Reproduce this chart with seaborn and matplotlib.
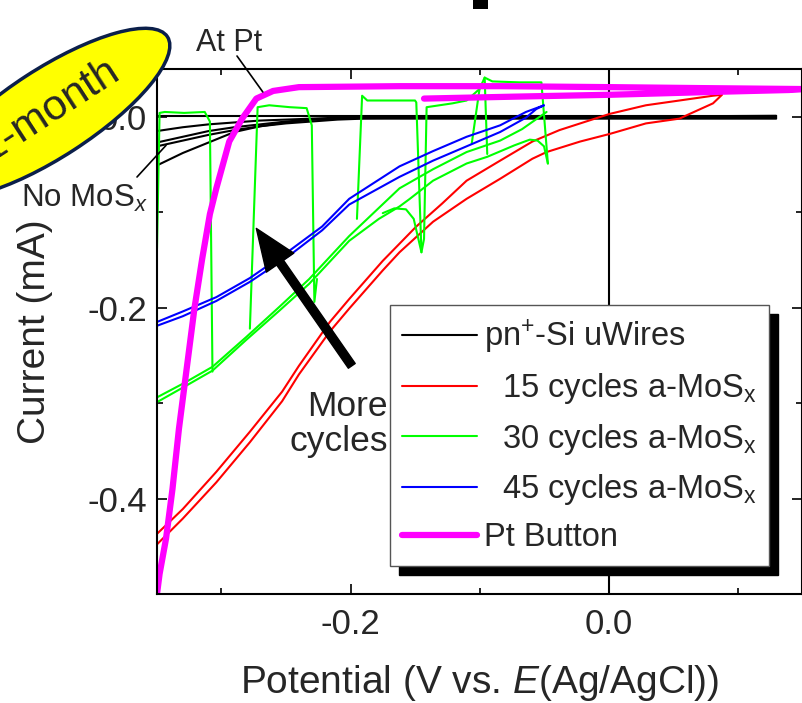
import numpy as np
import pandas as pd
import matplotlib
matplotlib.use("Agg")
import matplotlib.pyplot as plt
import seaborn as sns
from matplotlib.lines import Line2D
from matplotlib.patches import Ellipse, Rectangle
from matplotlib.ticker import MultipleLocator, FormatStrFormatter

# ---- data: potential (V) and current (mA) ----
# pn+-Si uWires, no MoSx (several scans, all close to zero)
black_v = [-0.35, -0.33, -0.31, -0.29, -0.27, -0.25, -0.23, -0.21, -0.19, -0.15, -0.10, 0.00, 0.13]
black_i_a = [-0.051, -0.038, -0.027, -0.016, -0.010, -0.006, -0.003, -0.002, -0.0015, -0.001, -0.001, -0.001, -0.001]
black_i_b = [-0.031, -0.025, -0.019, -0.014, -0.010, -0.007, -0.005, -0.003, -0.002, -0.002, -0.002, -0.002, -0.002]
black_i_c = [-0.027, -0.021, -0.015, -0.011, -0.008, -0.005, -0.003, -0.002, -0.001, -0.0005, 0.0, 0.0, 0.0]
black_i_d = [-0.015, -0.011, -0.008, -0.006, -0.004, -0.003, -0.002, -0.001, -0.001, 0.0, 0.0, 0.0, 0.001]
black_i_e = [0.001, 0.001, 0.001, 0.001, 0.001, 0.001, 0.001, 0.001, 0.001, 0.001, 0.001, 0.001, 0.001]

# 15 cycles a-MoSx (forward + reverse)
red_v = [-0.350, -0.330, -0.304, -0.278, -0.253, -0.240, -0.216, -0.201, -0.175, -0.149, -0.129,
         -0.110, -0.084, -0.059, -0.038, 0.001, 0.029, 0.055, 0.081, 0.088, 0.081, 0.063, 0.055,
         0.029, 0.001, -0.022, -0.048, -0.059, -0.084, -0.110, -0.136, -0.162, -0.175, -0.201,
         -0.216, -0.240, -0.253, -0.278, -0.304, -0.330, -0.350]
red_i = [-0.437, -0.411, -0.372, -0.330, -0.288, -0.261, -0.215, -0.191, -0.151, -0.115, -0.091,
         -0.067, -0.046, -0.026, -0.014, 0.003, 0.012, 0.017, 0.022, 0.023, 0.014, 0.003, -0.002,
         -0.007, -0.018, -0.026, -0.037, -0.044, -0.065, -0.086, -0.110, -0.142, -0.161, -0.201,
         -0.225, -0.270, -0.298, -0.341, -0.383, -0.421, -0.448]

# 30 cycles a-MoSx: two base scans plus the jump artefacts
green_up_v = [-0.350, -0.329, -0.307, -0.281, -0.255, -0.232, -0.201, -0.162, -0.136, -0.110, -0.084, -0.067, -0.048]
green_up_i = [-0.294, -0.279, -0.262, -0.231, -0.199, -0.170, -0.125, -0.075, -0.055, -0.037, -0.025, -0.013, 0.005]
green_down_v = [-0.047, -0.050, -0.055, -0.061, -0.073, -0.094, -0.110, -0.136, -0.154, -0.162, -0.178,
                -0.201, -0.232, -0.255, -0.281, -0.307, -0.329, -0.350]
green_down_i = [-0.049, -0.031, -0.025, -0.024, -0.030, -0.042, -0.049, -0.067, -0.086, -0.094, -0.107,
                -0.130, -0.175, -0.203, -0.234, -0.266, -0.283, -0.299]
green_jump1_v = [-0.350, -0.348, -0.344, -0.329, -0.313, -0.309, -0.307]
green_jump1_i = [-0.138, 0.004, 0.005, 0.004, 0.005, -0.005, -0.267]
green_jump2_v = [-0.278, -0.272, -0.263, -0.247, -0.234, -0.230, -0.228, -0.226]
green_jump2_i = [-0.222, 0.010, 0.012, 0.010, 0.009, -0.009, -0.194, -0.170]
green_jump3_v = [-0.195, -0.191, -0.187, -0.162, -0.150, -0.149, -0.145, -0.143, -0.141, -0.121,
                 -0.110, -0.100, -0.096, -0.090, -0.069, -0.052, -0.047]
green_jump3_i = [-0.107, 0.022, 0.017, 0.017, 0.017, 0.015, -0.142, -0.128, 0.010, 0.014,
                 0.017, 0.029, 0.041, 0.037, 0.036, 0.036, -0.049]
green_dip_v = [-0.175, -0.166, -0.157, -0.151, -0.145]
green_dip_i = [-0.101, -0.096, -0.097, -0.107, -0.142]
green_jump4_v = [-0.106, -0.100]
green_jump4_i = [-0.028, 0.029]
green_jump5_v = [-0.096, -0.094]
green_jump5_i = [0.041, -0.039]

# 45 cycles a-MoSx
blue_v = [-0.350, -0.330, -0.304, -0.278, -0.247, -0.222, -0.201, -0.162, -0.136, -0.110, -0.084,
          -0.064, -0.050, -0.056, -0.064, -0.084, -0.110, -0.136, -0.162, -0.201, -0.222, -0.247,
          -0.278, -0.304, -0.330, -0.350]
blue_i = [-0.215, -0.204, -0.189, -0.169, -0.140, -0.115, -0.086, -0.052, -0.036, -0.021, -0.009,
          0.005, 0.012, 0.008, -0.001, -0.016, -0.031, -0.046, -0.063, -0.092, -0.119, -0.145,
          -0.173, -0.193, -0.209, -0.219]

# Pt button
pt_v = [-0.350, -0.348, -0.343, -0.338, -0.333, -0.327, -0.321, -0.315, -0.309, -0.304, -0.294,
        -0.284, -0.273, -0.260, -0.240, -0.162, -0.084, 0.001, 0.071, 0.150, 0.140, 0.081,
        0.001, -0.074, -0.143]
pt_i = [-0.500, -0.479, -0.442, -0.390, -0.327, -0.264, -0.201, -0.149, -0.102, -0.075, -0.026,
        -0.002, 0.019, 0.027, 0.031, 0.032, 0.032, 0.031, 0.030, 0.029, 0.028, 0.026,
        0.023, 0.021, 0.019]

labels = ["pn$^{+}$-Si uWires",
          "  15 cycles a-MoS$_\\mathregular{x}$",
          "  30 cycles a-MoS$_\\mathregular{x}$",
          "  45 cycles a-MoS$_\\mathregular{x}$",
          "Pt Button"]
colors = ["#000000", "#ff0000", "#00ff00", "#0000ff", "#ff00ff"]
widths = [1.5, 1.5, 1.5, 1.5, 4.5]


def frame(parts):
    out = []
    for k, (v, i) in enumerate(parts):
        out.append(pd.DataFrame({"V": v, "I": i, "seg": k}))
    return pd.concat(out, ignore_index=True)


series = [
    frame([(black_v, black_i_a), (black_v, black_i_b), (black_v, black_i_c),
           (black_v, black_i_d), (black_v, black_i_e)]),
    frame([(red_v, red_i)]),
    frame([(green_up_v, green_up_i), (green_down_v, green_down_i),
           (green_jump1_v, green_jump1_i), (green_jump2_v, green_jump2_i),
           (green_jump3_v, green_jump3_i), (green_dip_v, green_dip_i),
           (green_jump4_v, green_jump4_i), (green_jump5_v, green_jump5_i)]),
    frame([(blue_v, blue_i)]),
    frame([(pt_v, pt_i)]),
]

sns.set_theme(style="ticks")
plt.rcParams["font.family"] = ["Liberation Sans", "DejaVu Sans"]
plt.rcParams["mathtext.fontset"] = "custom"
plt.rcParams["mathtext.rm"] = "Liberation Sans"
plt.rcParams["mathtext.it"] = "Liberation Sans:italic"
plt.rcParams["axes.unicode_minus"] = False

W, H = 802, 703
fig = plt.figure(figsize=(W / 100, H / 100), dpi=100)
ax = fig.add_axes([157 / W, 1 - 594 / H, 645 / W, 525 / H])


def px(x, y):
    return (x / W, 1 - y / H)


ax.axvline(0, color="black", lw=1.5, zorder=1.5)
for df, c, lw in zip(series, colors, widths):
    sns.lineplot(data=df, x="V", y="I", units="seg", estimator=None, sort=False,
                 color=c, lw=lw, ax=ax, legend=False)

ax.set_xlim(-0.35, 0.15)
ax.set_ylim(-0.5, 0.05)
ax.xaxis.set_major_locator(MultipleLocator(0.2))
ax.xaxis.set_minor_locator(MultipleLocator(0.1))
ax.yaxis.set_major_locator(MultipleLocator(0.2))
ax.yaxis.set_minor_locator(MultipleLocator(0.1))
ax.xaxis.set_major_formatter(FormatStrFormatter("%.1f"))
ax.yaxis.set_major_formatter(FormatStrFormatter("%.1f"))
ax.tick_params(which="both", direction="in", top=True, right=True, width=1.2, color="black")
ax.tick_params(which="major", length=7, labelsize=25)
ax.tick_params(axis="x", which="major", pad=10)
ax.tick_params(axis="y", which="major", pad=7)
ax.tick_params(which="minor", length=4.5)
for s in ax.spines.values():
    s.set_linewidth(1.5)
    s.set_color("black")

ax.set_xlabel("Potential (V vs. $E$(Ag/AgCl))", fontsize=28, labelpad=16)
ax.set_ylabel("Current (mA)", fontsize=28, labelpad=25)

handles = [Line2D([], [], color=c, lw=lw) for c, lw in zip(colors, widths)]
leg = ax.legend(handles, labels, loc="upper left", bbox_to_anchor=(0.361, 0.550),
                fontsize=23.5, frameon=True, fancybox=False, borderaxespad=0,
                handlelength=2.3, handletextpad=0.2, borderpad=0.38, labelspacing=0.47,
                shadow={"ox": 6.5, "oy": -6.5, "facecolor": "black", "edgecolor": "black", "alpha": 1})
leg.get_frame().set_edgecolor("#555555")
leg.get_frame().set_linewidth(1.0)
leg.get_frame().set_alpha(1)

# annotations
ax.annotate("More\ncycles", xy=(-0.171, -0.322), ha="right", va="center",
            fontsize=25.5, linespacing=1.1)
ax.annotate("", xy=(-0.273, -0.117), xytext=(-0.199, -0.261),
            arrowprops=dict(width=6, headwidth=24, headlength=30, color="black"))
ax.annotate("At Pt", xy=(-0.268, 0.026), xytext=px(229, 43), textcoords="figure fraction",
            ha="center", va="center", fontsize=22, annotation_clip=False)
ax.annotate("", xy=(-0.268, 0.026), xytext=px(237, 56), textcoords="figure fraction",
            arrowprops=dict(arrowstyle="-", color="black", lw=1.2, shrinkA=0, shrinkB=0),
            annotation_clip=False)
fig.text(*px(84, 198), "No MoS$_{x}$", ha="center", va="center", fontsize=22.5)
ax.annotate("", xy=(-0.343, -0.030), xytext=px(137, 177), textcoords="figure fraction",
            arrowprops=dict(arrowstyle="-", color="black", lw=1.2, shrinkA=0, shrinkB=0),
            annotation_clip=False)

# yellow "1-month" badge, partly off the figure
fig.add_artist(Ellipse((0.50, (H - 113) / 100), 2.80, 0.88, angle=33,
                       transform=fig.dpi_scale_trans, facecolor="#ffff00",
                       edgecolor="#0b1f4a", lw=2.5, zorder=5))
fig.text(0.50, (H - 110) / 100, "1-month", transform=fig.dpi_scale_trans, rotation=33,
         rotation_mode="anchor", ha="center", va="center", fontsize=31, zorder=6)
fig.add_artist(Rectangle((4.73, (H - 9) / 100), 0.15, 0.2, transform=fig.dpi_scale_trans,
                         facecolor="black", edgecolor="none", zorder=5))

fig.savefig("out.png", dpi=100)
